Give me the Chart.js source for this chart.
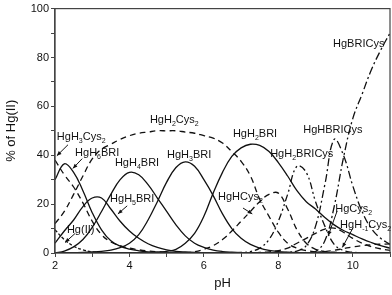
<!DOCTYPE html>
<html>
<head>
<meta charset="utf-8">
<script src="https://cdn.jsdelivr.net/npm/chart.js@4.4.1/dist/chart.umd.min.js"></script>
<style>
  html, body { margin: 0; padding: 0; background: #fff; }
  #wrap { width: 392px; height: 295px; }
</style>
</head>
<body>
<div id="wrap"><canvas id="speciation"></canvas></div>
<script>
// pH grid (step 0.25) shared by every curve
const pH = [2, 2.25, 2.5, 2.75, 3, 3.25, 3.5, 3.75, 4, 4.25, 4.5, 4.75, 5, 5.25, 5.5, 5.75,
  6, 6.25, 6.5, 6.75, 7, 7.25, 7.5, 7.75, 8, 8.25, 8.5, 8.75, 9, 9.25, 9.5, 9.75,
  10, 10.25, 10.5, 10.75, 11];

// % of Hg(II)
const hgII = [9.5, 5.5, 2.8, 1.3, 0.5, 0.2, 0.1, 0, 0, 0, 0, 0, 0, 0, 0, 0,
  0, 0, 0, 0, 0, 0, 0, 0, 0, 0, 0, 0, 0, 0, 0, 0, 0, 0, 0, 0, 0];
const hgH3Cys2 = [38, 32, 27, 20.5, 13, 7.5, 4.5, 3, 2, 1.3, 0.8, 0.5, 0.3, 0.2, 0.1, 0,
  0, 0, 0, 0, 0, 0, 0, 0, 0, 0, 0, 0, 0, 0, 0, 0, 0, 0, 0, 0, 0];
const hgH6BRI = [30, 36.5, 33, 25.5, 16.5, 9.5, 5, 2.8, 1.6, 0.9, 0.5, 0.3, 0.2, 0.1, 0, 0,
  0, 0, 0, 0, 0, 0, 0, 0, 0, 0, 0, 0, 0, 0, 0, 0, 0, 0, 0, 0, 0];
const hgH5BRI = [4, 9, 13.5, 19, 22.5, 22.5, 18, 13, 9, 6, 3.8, 2.3, 1.3, 0.7, 0.4, 0.2,
  0.1, 0, 0, 0, 0, 0, 0, 0, 0, 0, 0, 0, 0, 0, 0, 0, 0, 0, 0, 0, 0];
const hgH4BRI = [0, 0.8, 2.5, 5.5, 10.5, 17, 24, 30, 33, 32, 28, 22.5, 17, 11.5, 7, 4,
  2.3, 1.2, 0.6, 0.3, 0.1, 0, 0, 0, 0, 0, 0, 0, 0, 0, 0, 0, 0, 0, 0, 0, 0];
const hgH3BRI = [0, 0, 0.1, 0.2, 0.4, 0.7, 1.2, 2.2, 4, 7.5, 13.5, 21, 29, 35, 37.3, 35.5,
  30, 23.5, 16, 10, 6, 3.5, 2, 1.1, 0.6, 0.3, 0.1, 0, 0, 0, 0, 0, 0, 0, 0, 0, 0];
const hgH2BRI = [0, 0, 0, 0, 0, 0, 0, 0, 0, 0, 0.1, 0.3, 0.7, 1.5, 4, 8,
  15, 24.5, 33, 39.5, 43, 44.5, 44, 41.5, 37, 31.5, 25.5, 21, 18, 14.5, 11.5, 9.2,
  7.5, 5.8, 4.3, 3, 2];
const hgH2Cys2 = [12, 17, 24, 31.5, 38.5, 42.5, 44.5, 46.5, 48, 49, 49.5, 50, 50, 50, 49.5, 49,
  48, 47, 45, 41.5, 37.5, 31.5, 22, 15, 8.5, 4, 2, 1, 0.5, 0.2, 0.1, 0,
  0, 0, 0, 0, 0];
const hgHCys2 = [0, 0, 0, 0, 0, 0, 0, 0, 0, 0, 0, 0, 0, 0, 0, 0.5,
  1.5, 3, 5.5, 9, 13, 17, 21, 24, 24.5, 18, 9.5, 4, 1.5, 0.6, 0.3, 0.1,
  0, 0, 0, 0, 0];
const hgH2BRICys = [0, 0, 0, 0, 0, 0, 0, 0, 0, 0, 0, 0, 0, 0, 0, 0,
  0, 0, 0, 0, 0.2, 0.6, 2, 5.5, 13, 24, 35.5, 33, 21, 11, 3.5, 1,
  0.3, 0.1, 0, 0, 0];
const hgHBRICys = [0, 0, 0, 0, 0, 0, 0, 0, 0, 0, 0, 0, 0, 0, 0, 0,
  0, 0, 0, 0, 0, 0, 0, 0, 0, 0.3, 0.8, 3, 11, 28, 46.5, 40,
  27.5, 17, 10, 6, 3.5];
const hgBRICys = [0, 0, 0, 0, 0, 0, 0, 0, 0, 0, 0, 0, 0, 0, 0, 0,
  0, 0, 0, 0, 0, 0, 0, 0, 0, 0, 0, 0.1, 0.6, 5, 19, 39,
  55, 65, 75, 83, 90];
const hgCys2 = [0, 0, 0, 0, 0, 0, 0, 0, 0, 0, 0, 0, 0, 0, 0, 0,
  0, 0, 0, 0, 0, 0, 0.2, 0.5, 1, 2, 4, 6, 8, 9.8, 10.2, 8.5,
  6, 4, 2.6, 1.7, 1.1];
const hgHm1Cys2 = [0, 0, 0, 0, 0, 0, 0, 0, 0, 0, 0, 0, 0, 0, 0, 0,
  0, 0, 0, 0, 0, 0, 0, 0, 0, 0, 0, 0.1, 0.3, 0.6, 1.1, 1.8,
  2.5, 3, 3.4, 3.6, 3.7];

const xTicks = [2, 4, 6, 8, 10];
const yTicks = [0, 20, 40, 60, 80, 100];

// species labels: text ("_" starts a subscript), anchor pH, anchor %
const labels = [
  ["HgH_3Cys_2", 2.05, 46.3], ["HgH_6BRI", 2.54, 39.8], ["HgH_4BRI", 3.61, 35.8],
  ["HgH_3BRI", 5.01, 39.0], ["HgH_2Cys_2", 4.55, 53.2], ["HgH_2BRI", 6.78, 47.5],
  ["HgHBRICys", 8.67, 49.1], ["HgBRICys", 9.47, 84.3], ["HgH_2BRICys", 7.78, 39.4],
  ["HgH_5BRI", 3.48, 20.9], ["Hg(II)", 2.32, 8.0], ["HgHCys_2", 6.38, 21.7],
  ["HgCys_2", 9.53, 16.8], ["HgH_-1Cys_2", 9.66, 10.4]
];
// arrows: from pH, from %, to pH, to %
const arrows = [
  [2.35, 44.3, 2.05, 39.8], [2.73, 38.6, 2.48, 34.6], [3.94, 19.3, 3.69, 16.0],
  [2.54, 8.0, 2.27, 4.3], [7.05, 18.4, 7.3, 16.0], [9.58, 17.2, 9.34, 7.1],
  [10.01, 10.4, 9.72, 2.3]
];

const SOLID = [], DASH = [6, 4], DASHDOT = [8, 3, 2, 3], DASHDOTDOT = [7, 3, 2, 3, 2, 3];

function series(vals, dash) {
  return {
    data: pH.map((p, i) => ({ x: p, y: vals[i] })),
    borderColor: "#111",
    borderWidth: 1.3,
    borderDash: dash,
    pointRadius: 0,
    tension: 0.4,
    fill: false
  };
}

const FONT = "'Liberation Sans', Arial, sans-serif";

const decor = {
  id: "decor",
  afterDraw(chart) {
    const ctx = chart.ctx, a = chart.chartArea;
    const xs = chart.scales.x, ys = chart.scales.y;
    ctx.save();
    // frame
    ctx.strokeStyle = "#444";
    ctx.lineWidth = 1.2;
    ctx.strokeRect(a.left, a.top, a.right - a.left, a.bottom - a.top);

    // labels with subscripts
    ctx.fillStyle = "#111";
    ctx.textBaseline = "alphabetic";
    labels.forEach(([txt, px, py]) => {
      let x = xs.getPixelForValue(px);
      const y = ys.getPixelForValue(py);
      const parts = txt.split(/(_-?\d+)/).filter(s => s.length);
      parts.forEach(s => {
        if (s[0] === "_") {
          ctx.font = "7px " + FONT;
          ctx.fillText(s.slice(1), x, y + 3);
          x += ctx.measureText(s.slice(1)).width;
        } else {
          ctx.font = "11px " + FONT;
          ctx.fillText(s, x, y);
          x += ctx.measureText(s).width;
        }
      });
    });

    // arrows
    ctx.strokeStyle = "#111";
    ctx.lineWidth = 1;
    arrows.forEach(([x0, y0, x1, y1]) => {
      const ax = xs.getPixelForValue(x0), ay = ys.getPixelForValue(y0);
      const bx = xs.getPixelForValue(x1), by = ys.getPixelForValue(y1);
      const ang = Math.atan2(by - ay, bx - ax);
      ctx.beginPath();
      ctx.moveTo(ax, ay);
      ctx.lineTo(bx, by);
      ctx.stroke();
      ctx.beginPath();
      ctx.moveTo(bx, by);
      ctx.lineTo(bx - 5 * Math.cos(ang - 0.4), by - 5 * Math.sin(ang - 0.4));
      ctx.lineTo(bx - 5 * Math.cos(ang + 0.4), by - 5 * Math.sin(ang + 0.4));
      ctx.closePath();
      ctx.fill();
    });
    ctx.restore();
  }
};

new Chart(document.getElementById("speciation").getContext("2d"), {
  type: "line",
  data: {
    datasets: [
      series(hgII, [3, 2]),
      series(hgH3Cys2, DASH),
      series(hgH6BRI, SOLID),
      series(hgH5BRI, SOLID),
      series(hgH4BRI, SOLID),
      series(hgH3BRI, SOLID),
      series(hgH2BRI, SOLID),
      series(hgH2Cys2, DASH),
      series(hgHCys2, DASH),
      series(hgH2BRICys, DASHDOTDOT),
      series(hgHBRICys, DASHDOT),
      series(hgBRICys, DASHDOT),
      series(hgCys2, DASH),
      series(hgHm1Cys2, DASH)
    ]
  },
  options: {
    responsive: true,
    maintainAspectRatio: false,
    animation: false,
    layout: { padding: { top: -1, right: 2, left: 0, bottom: 0 } },
    plugins: {
      legend: { display: false },
      tooltip: { enabled: false }
    },
    scales: {
      x: {
        type: "linear",
        min: 2,
        max: 11,
        afterFit: s => { s.height = 42; },
        afterBuildTicks: s => { s.ticks = [2, 3, 4, 5, 6, 7, 8, 9, 10, 11].map(v => ({ value: v })); },
        ticks: {
          color: "#111",
          font: { family: FONT, size: 11 },
          padding: 2,
          maxRotation: 0,
          callback: v => xTicks.includes(v) ? v : ""
        },
        grid: { drawOnChartArea: false, tickLength: 4, color: "#444" },
        border: { color: "#444", width: 1.2 },
        title: { display: true, text: "pH", color: "#111", font: { family: FONT, size: 13 }, padding: { top: 4 } }
      },
      y: {
        min: 0,
        max: 100,
        afterFit: s => { s.width = 55; },
        afterBuildTicks: s => { s.ticks = [0, 10, 20, 30, 40, 50, 60, 70, 80, 90, 100].map(v => ({ value: v })); },
        ticks: {
          color: "#111",
          font: { family: FONT, size: 11 },
          padding: 2,
          callback: v => yTicks.includes(v) ? v : ""
        },
        grid: { drawOnChartArea: false, tickLength: 4, color: "#444" },
        border: { color: "#444", width: 1.2 },
        title: { display: true, text: "% of Hg(II)", color: "#111", font: { family: FONT, size: 13 }, padding: { bottom: 2 } }
      }
    }
  },
  plugins: [decor]
});
</script>
</body>
</html>
